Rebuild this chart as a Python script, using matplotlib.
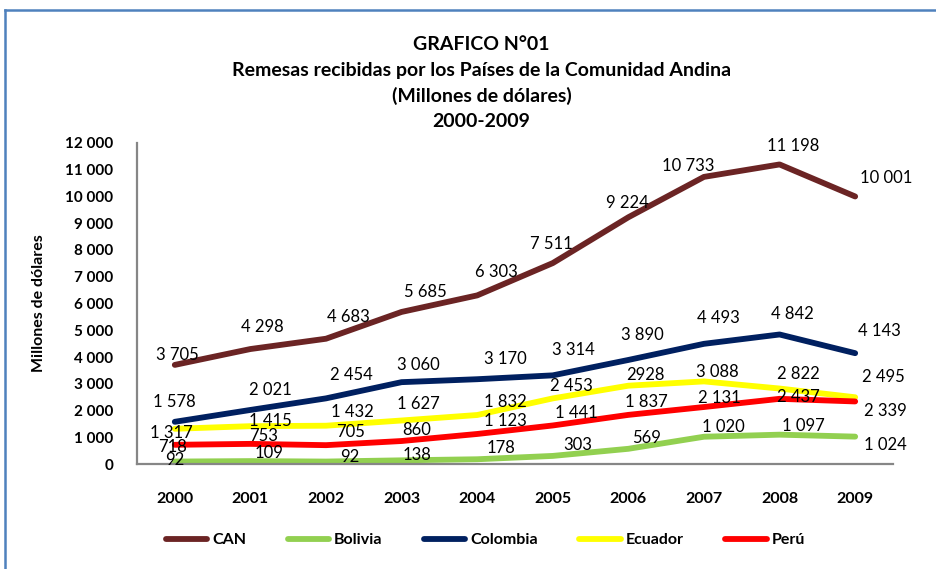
import matplotlib
matplotlib.use('Agg')
import matplotlib.pyplot as plt
from matplotlib.lines import Line2D

plt.rcParams['font.family'] = ['Lato', 'DejaVu Sans']

years = ['2000', '2001', '2002', '2003', '2004', '2005', '2006', '2007', '2008', '2009']
can = [3705, 4298, 4683, 5685, 6303, 7511, 9224, 10733, 11198, 10001]
bolivia = [92, 109, 92, 138, 178, 303, 569, 1020, 1097, 1024]
colombia = [1578, 2021, 2454, 3060, 3170, 3314, 3890, 4493, 4842, 4143]
ecuador = [1317, 1415, 1432, 1627, 1832, 2453, 2928, 3088, 2822, 2495]
peru = [718, 753, 705, 860, 1123, 1441, 1837, 2131, 2437, 2339]
yticks = list(range(0, 12001, 1000))

# label text as written on the chart (2006 Ecuador has no thousands space)
ecuador_txt = ['1 317', '1 415', '1 432', '1 627', '1 832', '2 453', '2928', '3 088', '2 822', '2 495']

# data label offsets in pixels (dx, dy up) as placed in the original
off_can = [(3, 10), (12, 22), (22, 22), (24, 20), (19, 23), (-1, 19), (-1, 14), (-16, 11), (14, 18), (31, 18)]
off_bol = [(0, 2), (19, 8), (24, 5), (15, 5), (24, 11), (25, 11), (18, 11), (19, 10), (24, 9), (30, -8)]
off_col = [(0, 20), (20, 20), (25, 23), (17, 17), (28, 20), (21, 25), (14, 25), (14, 26), (13, 20), (24, 22)]
off_ecu = [(-3, -4), (20, 5), (26, 14), (17, 16), (28, 13), (19, 12), (17, 11), (13, 9), (19, 15), (28, 20)]
off_per = [(-2, -2), (13, 8), (25, 13), (15, 11), (28, 13), (24, 12), (18, 13), (15, 9), (19, 2), (30, -10)]


def fmt(v):
    return '{:,}'.format(v).replace(',', ' ')


fig = plt.figure(figsize=(9.37, 5.69), dpi=100)
ax = fig.add_axes([0.1462, 0.1845, 0.8068, 0.5642])

series = [
    ('CAN', can, '#6B2424', off_can, None),
    ('Bolivia', bolivia, '#92D050', off_bol, None),
    ('Colombia', colombia, '#002060', off_col, None),
    ('Ecuador', ecuador, '#FFFF00', off_ecu, ecuador_txt),
    ('Perú', peru, '#FF0000', off_per, None),
]

x = list(range(len(years)))
for name, vals, color, offs, txt in series:
    ax.plot(x, vals, color=color, lw=4.2, solid_capstyle='round',
            solid_joinstyle='round', label=name)
for name, vals, color, offs, txt in series:
    for i, v in enumerate(vals):
        s = txt[i] if txt else fmt(v)
        ax.annotate(s, (i, v), xytext=offs[i], textcoords='offset pixels',
                    ha='center', va='center', fontsize=12, color='black')

ax.set_xlim(-0.5, 9.5)
ax.set_ylim(0, 12000)
ax.set_yticks(yticks)
ax.set_yticklabels([fmt(t) for t in yticks], fontsize=11, fontweight='bold')
ax.set_xticks(x)
ax.set_xticklabels(years, fontsize=11.5, fontweight='bold')
ax.tick_params(axis='both', length=0)
ax.tick_params(axis='x', pad=20)
ax.tick_params(axis='y', pad=17)
for side in ['top', 'right']:
    ax.spines[side].set_visible(False)
for side in ['left', 'bottom']:
    ax.spines[side].set_color('#868686')
    ax.spines[side].set_linewidth(1.6)

ax.set_ylabel('Millones de dólares', fontsize=11.5, fontweight='bold', labelpad=14)

title_lines = ['GRAFICO N°01',
               'Remesas recibidas por los Países de la Comunidad Andina',
               '(Millones de dólares)',
               '2000-2009']
for k, t in enumerate(title_lines):
    fig.text(0.514, 1 - (45 + 25.5 * k) / 569, t, ha='center', va='center',
             fontsize=14, fontweight='bold')

leg = fig.legend(loc='center', bbox_to_anchor=(0.518, 1 - 540 / 569), ncol=5,
                 frameon=False, fontsize=11.5, handlelength=2.6,
                 columnspacing=2.6, handletextpad=0.3)
for t in leg.get_texts():
    t.set_fontweight('bold')

# blue frame lines (top and left) of the chart object
fig.add_artist(Line2D([5 / 937, 1], [1 - 10 / 569, 1 - 10 / 569],
                      transform=fig.transFigure, color='#4F81BD', lw=1.8))
fig.add_artist(Line2D([5 / 937, 5 / 937], [0, 1 - 10 / 569],
                      transform=fig.transFigure, color='#4F81BD', lw=1.8))

fig.savefig('out.png', dpi=100)
